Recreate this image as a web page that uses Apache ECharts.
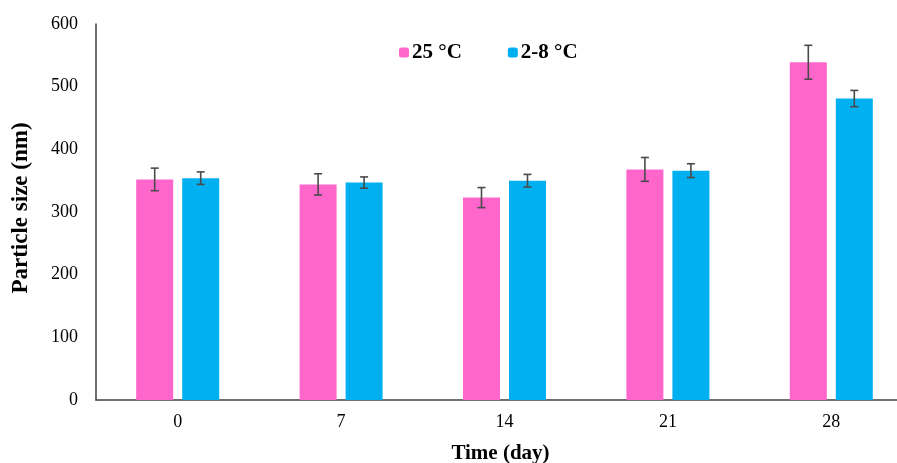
<!DOCTYPE html>
<html>
<head>
<meta charset="utf-8">
<script src="https://cdn.jsdelivr.net/npm/echarts@6/dist/echarts.min.js"></script>
<style>
  html, body { margin: 0; padding: 0; background: #fff; }
  #main { width: 897px; height: 463px; }
</style>
</head>
<body>
<div id="main"></div>
<script>
// time points (day)
const days = ['0', '7', '14', '21', '28']
// mean particle size (nm)
const size25 = [352, 344, 323, 368, 539]
const size2to8 = [354, 347, 350, 366, 481]
// standard deviation
const err25 = [18, 17, 16, 19, 27]
const err2to8 = [10, 9, 10, 11, 13]

const barW = 37
const barGapPx = 9
const serifFont = '"Liberation Serif", "Times New Roman", serif'

// error bar drawn over a bar, offset is the bar centre relative to the band centre
function errorBar(offset) {
  return function (params, api) {
    const i = api.value(0)
    const mean = api.value(1)
    const sd = api.value(2)
    const top = api.coord([i, mean + sd])
    const bot = api.coord([i, mean - sd])
    const x = top[0] + offset
    const cap = 4
    const style = { stroke: '#4a4a4a', lineWidth: 1.6 }
    return {
      type: 'group',
      children: [
        { type: 'line', shape: { x1: x, y1: top[1], x2: x, y2: bot[1] }, style: style },
        { type: 'line', shape: { x1: x - cap, y1: top[1], x2: x + cap, y2: top[1] }, style: style },
        { type: 'line', shape: { x1: x - cap, y1: bot[1], x2: x + cap, y2: bot[1] }, style: style }
      ]
    }
  }
}

const off = (barW + barGapPx) / 2

const chart = echarts.init(document.getElementById('main'))
chart.setOption({
  animation: false,
  textStyle: { fontFamily: serifFont },
  legend: {
    top: 37,
    left: 394,
    itemWidth: 10,
    itemHeight: 10,
    itemGap: 46,
    data: ['25 °C', '2-8 °C'],
    textStyle: { fontFamily: serifFont, fontSize: 21, fontWeight: 'bold', color: '#000', padding: [0, 0, 0, -2] }
  },
  grid: { left: 96, top: 24, right: -16, bottom: 63, outerBoundsMode: 'none', containLabel: false },
  xAxis: {
    type: 'category',
    data: days,
    name: 'Time (day)',
    nameLocation: 'middle',
    nameGap: 43,
    nameTextStyle: { fontFamily: serifFont, fontSize: 21, fontWeight: 'bold', color: '#000', padding: [0, 8, 0, 0] },
    axisLine: { lineStyle: { color: '#404040', width: 1.5 } },
    axisTick: { show: false },
    axisLabel: { fontFamily: serifFont, fontSize: 18, color: '#000', margin: 13 }
  },
  yAxis: {
    type: 'value',
    min: 0,
    max: 600,
    interval: 100,
    name: 'Particle size (nm)',
    nameLocation: 'middle',
    nameGap: 63,
    nameTextStyle: { fontFamily: serifFont, fontSize: 23, fontWeight: 'bold', color: '#000', padding: [0, 0, 0, 8] },
    axisLine: { show: true, lineStyle: { color: '#404040', width: 1.5 } },
    axisTick: { show: false },
    splitLine: { show: false },
    axisLabel: { fontFamily: serifFont, fontSize: 18, color: '#000', margin: 18 }
  },
  series: [
    {
      name: '25 °C',
      type: 'bar',
      data: size25,
      barWidth: barW,
      barGap: (barGapPx / barW * 100) + '%',
      itemStyle: { color: '#ff66cc' }
    },
    {
      name: '2-8 °C',
      type: 'bar',
      data: size2to8,
      barWidth: barW,
      itemStyle: { color: '#00b0f0' }
    },
    {
      type: 'custom',
      renderItem: errorBar(-off),
      data: size25.map((v, i) => [i, v, err25[i]]),
      z: 10
    },
    {
      type: 'custom',
      renderItem: errorBar(off),
      data: size2to8.map((v, i) => [i, v, err2to8[i]]),
      z: 10
    }
  ]
})
</script>
</body>
</html>
